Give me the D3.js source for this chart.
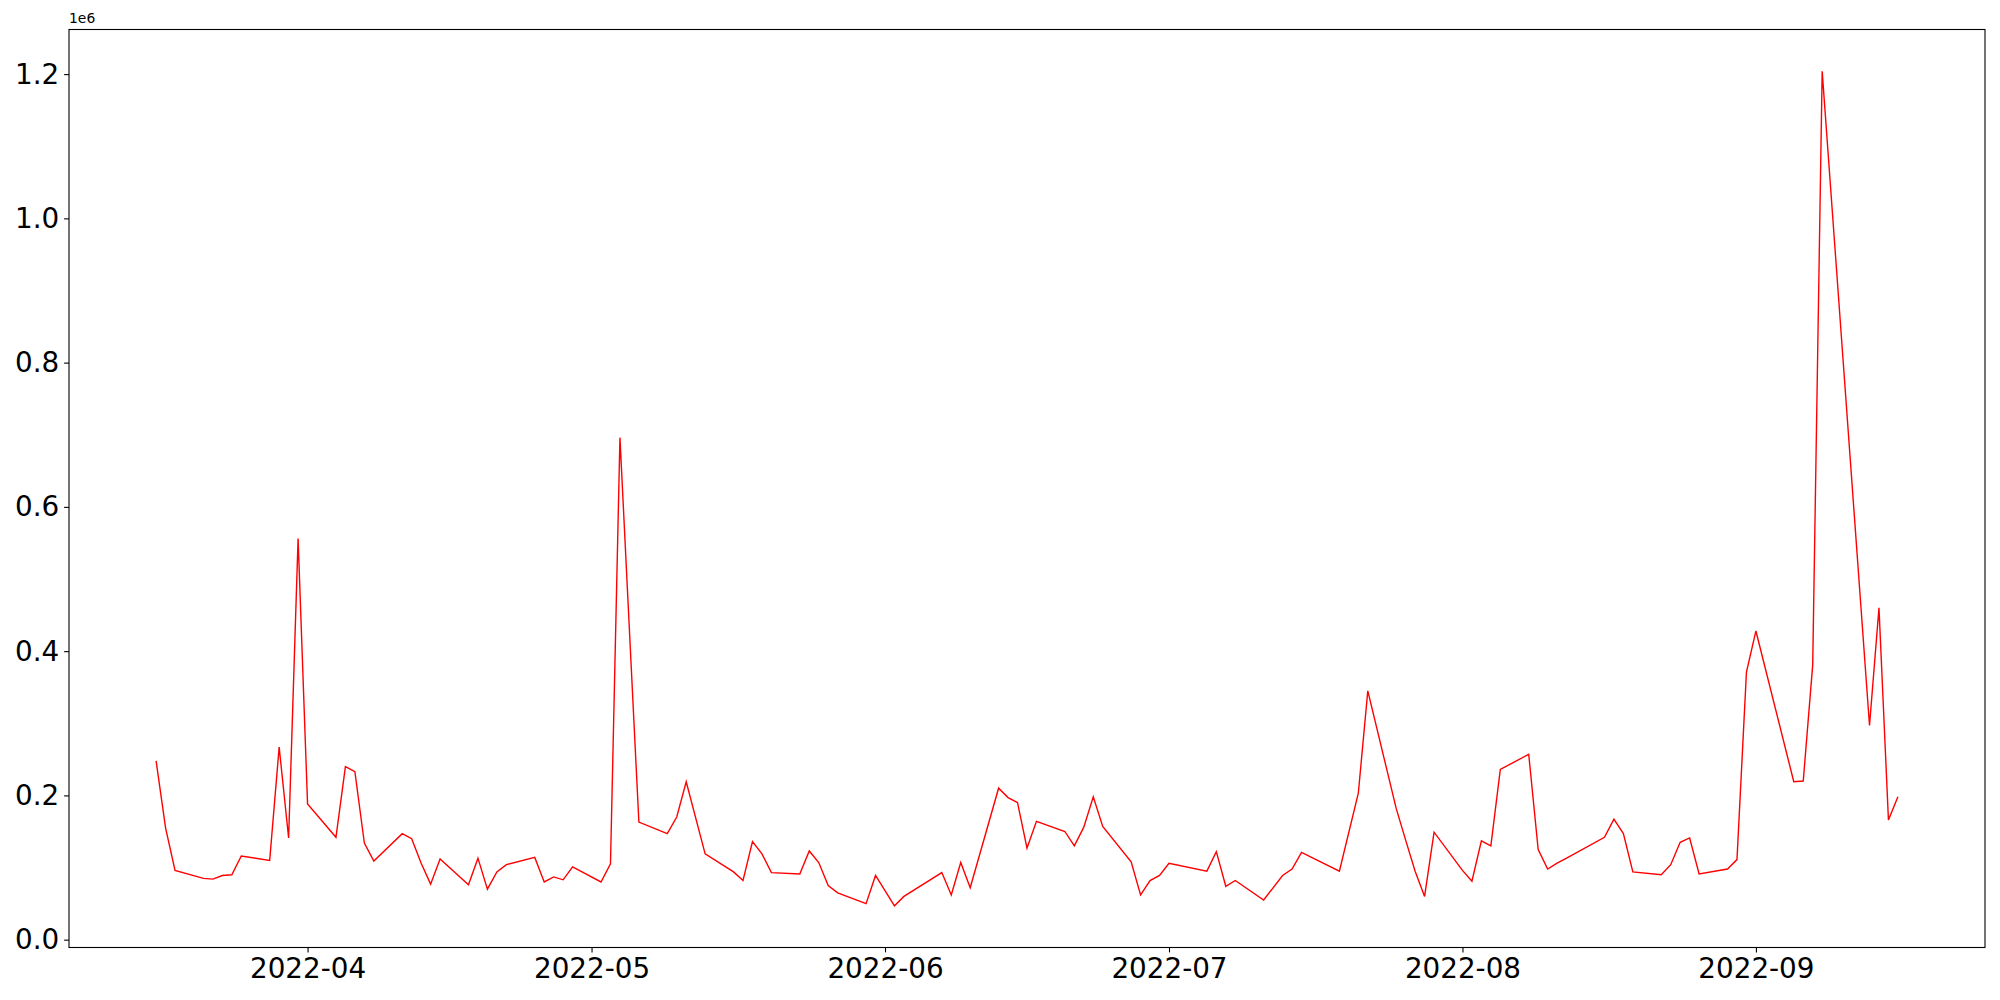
<!DOCTYPE html>
<html>
<head>
<meta charset="utf-8">
<script src="https://cdn.jsdelivr.net/npm/d3@7"></script>
<style>
    body { margin: 0; background: #fff; }
    text { font-family: "DejaVu Sans", sans-serif; }
</style>
</head>
<body>
<svg id="chart" width="2000" height="1000"></svg>
<script>

// trading days shown on the chart
const dates = [
    "2022-03-16","2022-03-17","2022-03-18","2022-03-21","2022-03-22","2022-03-23","2022-03-24","2022-03-25",
    "2022-03-28","2022-03-29","2022-03-30","2022-03-31","2022-04-01","2022-04-04","2022-04-05","2022-04-06",
    "2022-04-07","2022-04-08","2022-04-11","2022-04-12","2022-04-13","2022-04-14","2022-04-15","2022-04-18",
    "2022-04-19","2022-04-20","2022-04-21","2022-04-22","2022-04-25","2022-04-26","2022-04-27","2022-04-28",
    "2022-04-29","2022-05-02","2022-05-03","2022-05-04","2022-05-06","2022-05-09","2022-05-10","2022-05-11",
    "2022-05-13","2022-05-16","2022-05-17","2022-05-18","2022-05-19","2022-05-20","2022-05-23","2022-05-24",
    "2022-05-25","2022-05-26","2022-05-27","2022-05-30","2022-05-31","2022-06-02","2022-06-03","2022-06-07",
    "2022-06-08","2022-06-09","2022-06-10","2022-06-13","2022-06-14","2022-06-15","2022-06-16","2022-06-17",
    "2022-06-20","2022-06-21","2022-06-22","2022-06-23","2022-06-24","2022-06-27","2022-06-28","2022-06-29",
    "2022-06-30","2022-07-01","2022-07-05","2022-07-06","2022-07-07","2022-07-08","2022-07-11","2022-07-13",
    "2022-07-14","2022-07-15","2022-07-19","2022-07-21","2022-07-22","2022-07-25","2022-07-26","2022-07-27",
    "2022-07-28","2022-07-29","2022-08-01","2022-08-02","2022-08-03","2022-08-04","2022-08-05","2022-08-08",
    "2022-08-09","2022-08-10","2022-08-11","2022-08-12","2022-08-16","2022-08-17","2022-08-18","2022-08-19",
    "2022-08-22","2022-08-23","2022-08-24","2022-08-25","2022-08-26","2022-08-29","2022-08-30","2022-08-31",
    "2022-09-01","2022-09-05","2022-09-06","2022-09-07","2022-09-08","2022-09-13","2022-09-14","2022-09-15",
    "2022-09-16"
];

const volumes = [
    248000, 155000, 96000, 85000, 84000, 89000, 90000, 116000,
    110000, 267000, 141000, 556000, 188000, 142000, 240000, 233000,
    134000, 109000, 147000, 140000, 106000, 77000, 112000, 76000,
    113000, 70000, 94000, 104000, 114000, 80000, 87000, 83000,
    101000, 80000, 105000, 696000, 163000, 147000, 170000, 219000,
    119000, 94000, 82000, 136000, 119000, 93000, 91000, 123000,
    107000, 75000, 65000, 50000, 89000, 47000, 60000, 93000,
    62000, 107000, 72000, 210000, 197000, 190000, 127000, 164000,
    150000, 130000, 156000, 198000, 157000, 108000, 62000, 82000,
    89000, 106000, 95000, 122000, 74000, 82000, 55000, 89000,
    98000, 121000, 95000, 203000, 345000, 182000, 138000, 95000,
    60000, 149000, 96000, 81000, 137000, 130000, 236000, 257000,
    125000, 98000, 106000, 113000, 142000, 167000, 147000, 94000,
    90000, 104000, 135000, 141000, 91000, 98000, 111000, 371000,
    428000, 219000, 220000, 381000, 1204000, 297000, 460000, 166000,
    198000
];

const yTicks = [0, 200000, 400000, 600000, 800000, 1000000, 1200000];

class VolumeVis {

    constructor(svg_id) {
        this.svg_id = svg_id;
        this.margin = {left: 69, top: 29.5, right: 15, bottom: 52.5};
        this.render();
    }

    render() {
        let svg = d3.select("#" + this.svg_id);
        let width = 2000 - this.margin.left - this.margin.right;
        let height = 1000 - this.margin.top - this.margin.bottom;

        let parse = d3.utcParse("%Y-%m-%d");
        let data = dates.map(function(d, i) {
            return {date: parse(d), value: volumes[i]};
        });

        // matplotlib style 5% padding on both axes
        let xExt = d3.extent(data, d => d.date);
        let xPad = (xExt[1] - xExt[0]) * 0.05;
        let x = d3.scaleUtc()
            .domain([new Date(+xExt[0] - xPad), new Date(+xExt[1] + xPad)])
            .range([0, width]);

        let yExt = d3.extent(data, d => d.value);
        let yPad = (yExt[1] - yExt[0]) * 0.05;
        let y = d3.scaleLinear()
            .domain([yExt[0] - yPad, yExt[1] + yPad])
            .range([height, 0]);

        let g = svg.append("g")
            .attr("transform", "translate(" + this.margin.left + "," + this.margin.top + ")");

        // data line
        let line = d3.line()
            .x(d => x(d.date))
            .y(d => y(d.value));

        g.append("path")
            .datum(data)
            .attr("d", line)
            .style("fill", "none")
            .style("stroke", "red")
            .style("stroke-width", 1.4)
            .style("stroke-linejoin", "miter");

        // axes
        let months = d3.utcMonth.range(d3.utcMonth.ceil(x.domain()[0]), x.domain()[1]);
        let xAxis = d3.axisBottom(x)
            .tickValues(months)
            .tickFormat(d3.utcFormat("%Y-%m"))
            .tickSize(4.9)
            .tickPadding(4.9)
            .tickSizeOuter(0);

        let yAxis = d3.axisLeft(y)
            .tickValues(yTicks)
            .tickFormat(d => d3.format(".1f")(d / 1e6))
            .tickSize(4.9)
            .tickPadding(4.9)
            .tickSizeOuter(0);

        let gx = g.append("g")
            .attr("transform", "translate(0," + height + ")")
            .call(xAxis);
        let gy = g.append("g").call(yAxis);

        [gx, gy].forEach(function(a) {
            a.select(".domain").remove();
            a.selectAll(".tick line").style("stroke", "#000").style("stroke-width", 1.1);
            a.selectAll(".tick text")
                .style("font-family", "'DejaVu Sans', sans-serif")
                .style("font-size", "27.8px")
                .style("fill", "#000");
        });
        gx.selectAll(".tick text").attr("dy", "0.76em");

        // frame
        g.append("rect")
            .attr("x", 0)
            .attr("y", 0)
            .attr("width", width)
            .attr("height", height)
            .style("fill", "none")
            .style("stroke", "#000")
            .style("stroke-width", 1.1);

        // offset text
        g.append("text")
            .attr("x", 0)
            .attr("y", -7)
            .style("font-size", "13.9px")
            .style("fill", "#000")
            .text("1e6");
    }
}

new VolumeVis("chart");
</script>
</body>
</html>
